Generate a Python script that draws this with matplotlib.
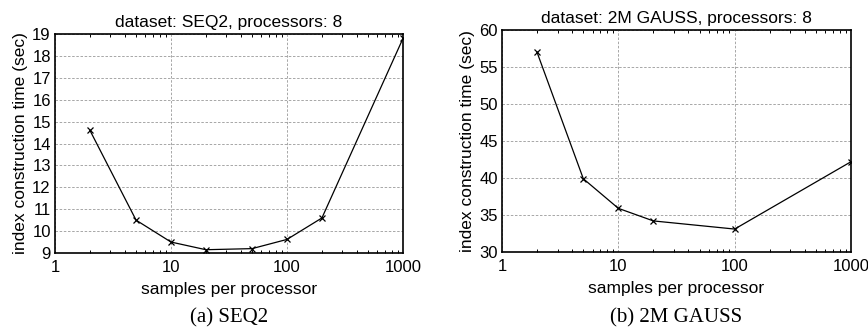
import matplotlib
matplotlib.use("Agg")
import matplotlib.pyplot as plt
from matplotlib.ticker import FixedLocator, LogLocator, NullFormatter

plt.rcParams['font.family'] = ['Liberation Sans', 'DejaVu Sans']

# sample counts per processor and build times (sec)
seq2_samples = [2, 5, 10, 20, 50, 100, 200, 1000]
seq2_time = [14.6, 10.5, 9.5, 9.15, 9.2, 9.62, 10.6, 18.8]

gauss_samples = [2, 5, 10, 20, 100, 1000]
gauss_time = [57.0, 39.9, 35.9, 34.2, 33.1, 42.2]

seq2_yticks = [9, 10, 11, 12, 13, 14, 15, 16, 17, 18, 19]
gauss_yticks = [30, 35, 40, 45, 50, 55, 60]
xticks = [1, 10, 100, 1000]

fig = plt.figure(figsize=(8.68, 3.32), dpi=100)
ax1 = fig.add_axes([55/868, 1-253/332, 348/868, 219/332])
ax2 = fig.add_axes([502/868, 1-252/332, 349/868, 222/332])

panels = [
    (ax1, seq2_samples, seq2_time, seq2_yticks, "dataset: SEQ2, processors: 8", "(a) SEQ2"),
    (ax2, gauss_samples, gauss_time, gauss_yticks, "dataset: 2M GAUSS, processors: 8", "(b) 2M GAUSS"),
]

for ax, xs, ys, yt, title, caption in panels:
    ax.plot(xs, ys, color='black', lw=0.9, marker='x', ms=4, mew=0.9)
    ax.set_xscale('log')
    ax.set_xlim(1, 1000)
    ax.set_ylim(yt[0], yt[-1])
    ax.xaxis.set_major_locator(FixedLocator(xticks))
    ax.set_xticklabels([str(t) for t in xticks])
    ax.xaxis.set_minor_locator(LogLocator(base=10, subs=range(2, 10)))
    ax.xaxis.set_minor_formatter(NullFormatter())
    ax.set_yticks(yt)
    ax.tick_params(axis='both', which='both', direction='in', top=True, right=True,
                   labelsize=12, pad=3)
    ax.tick_params(axis='x', which='major', pad=5)
    ax.tick_params(axis='x', which='minor', length=2.5, width=0.7)
    ax.tick_params(axis='both', which='major', length=0)
    ax.grid(True, which='major', color='#999999', ls=(0, (3, 2)), lw=0.6)
    for s in ax.spines.values():
        s.set_linewidth(1.2)
    ax.set_title(title, fontsize=12.5, pad=5)
    ax.set_xlabel("samples per processor", fontsize=12.5, labelpad=5)
    ax.set_ylabel("index construction time (sec)", fontsize=12.5, labelpad=3)
    bb = ax.get_position()
    fig.text((bb.x0 + bb.x1) / 2, 1 - 318/332, caption, ha='center', va='center',
             fontsize=15, family=['Liberation Serif', 'DejaVu Serif'])

fig.savefig("out.png", dpi=100)
